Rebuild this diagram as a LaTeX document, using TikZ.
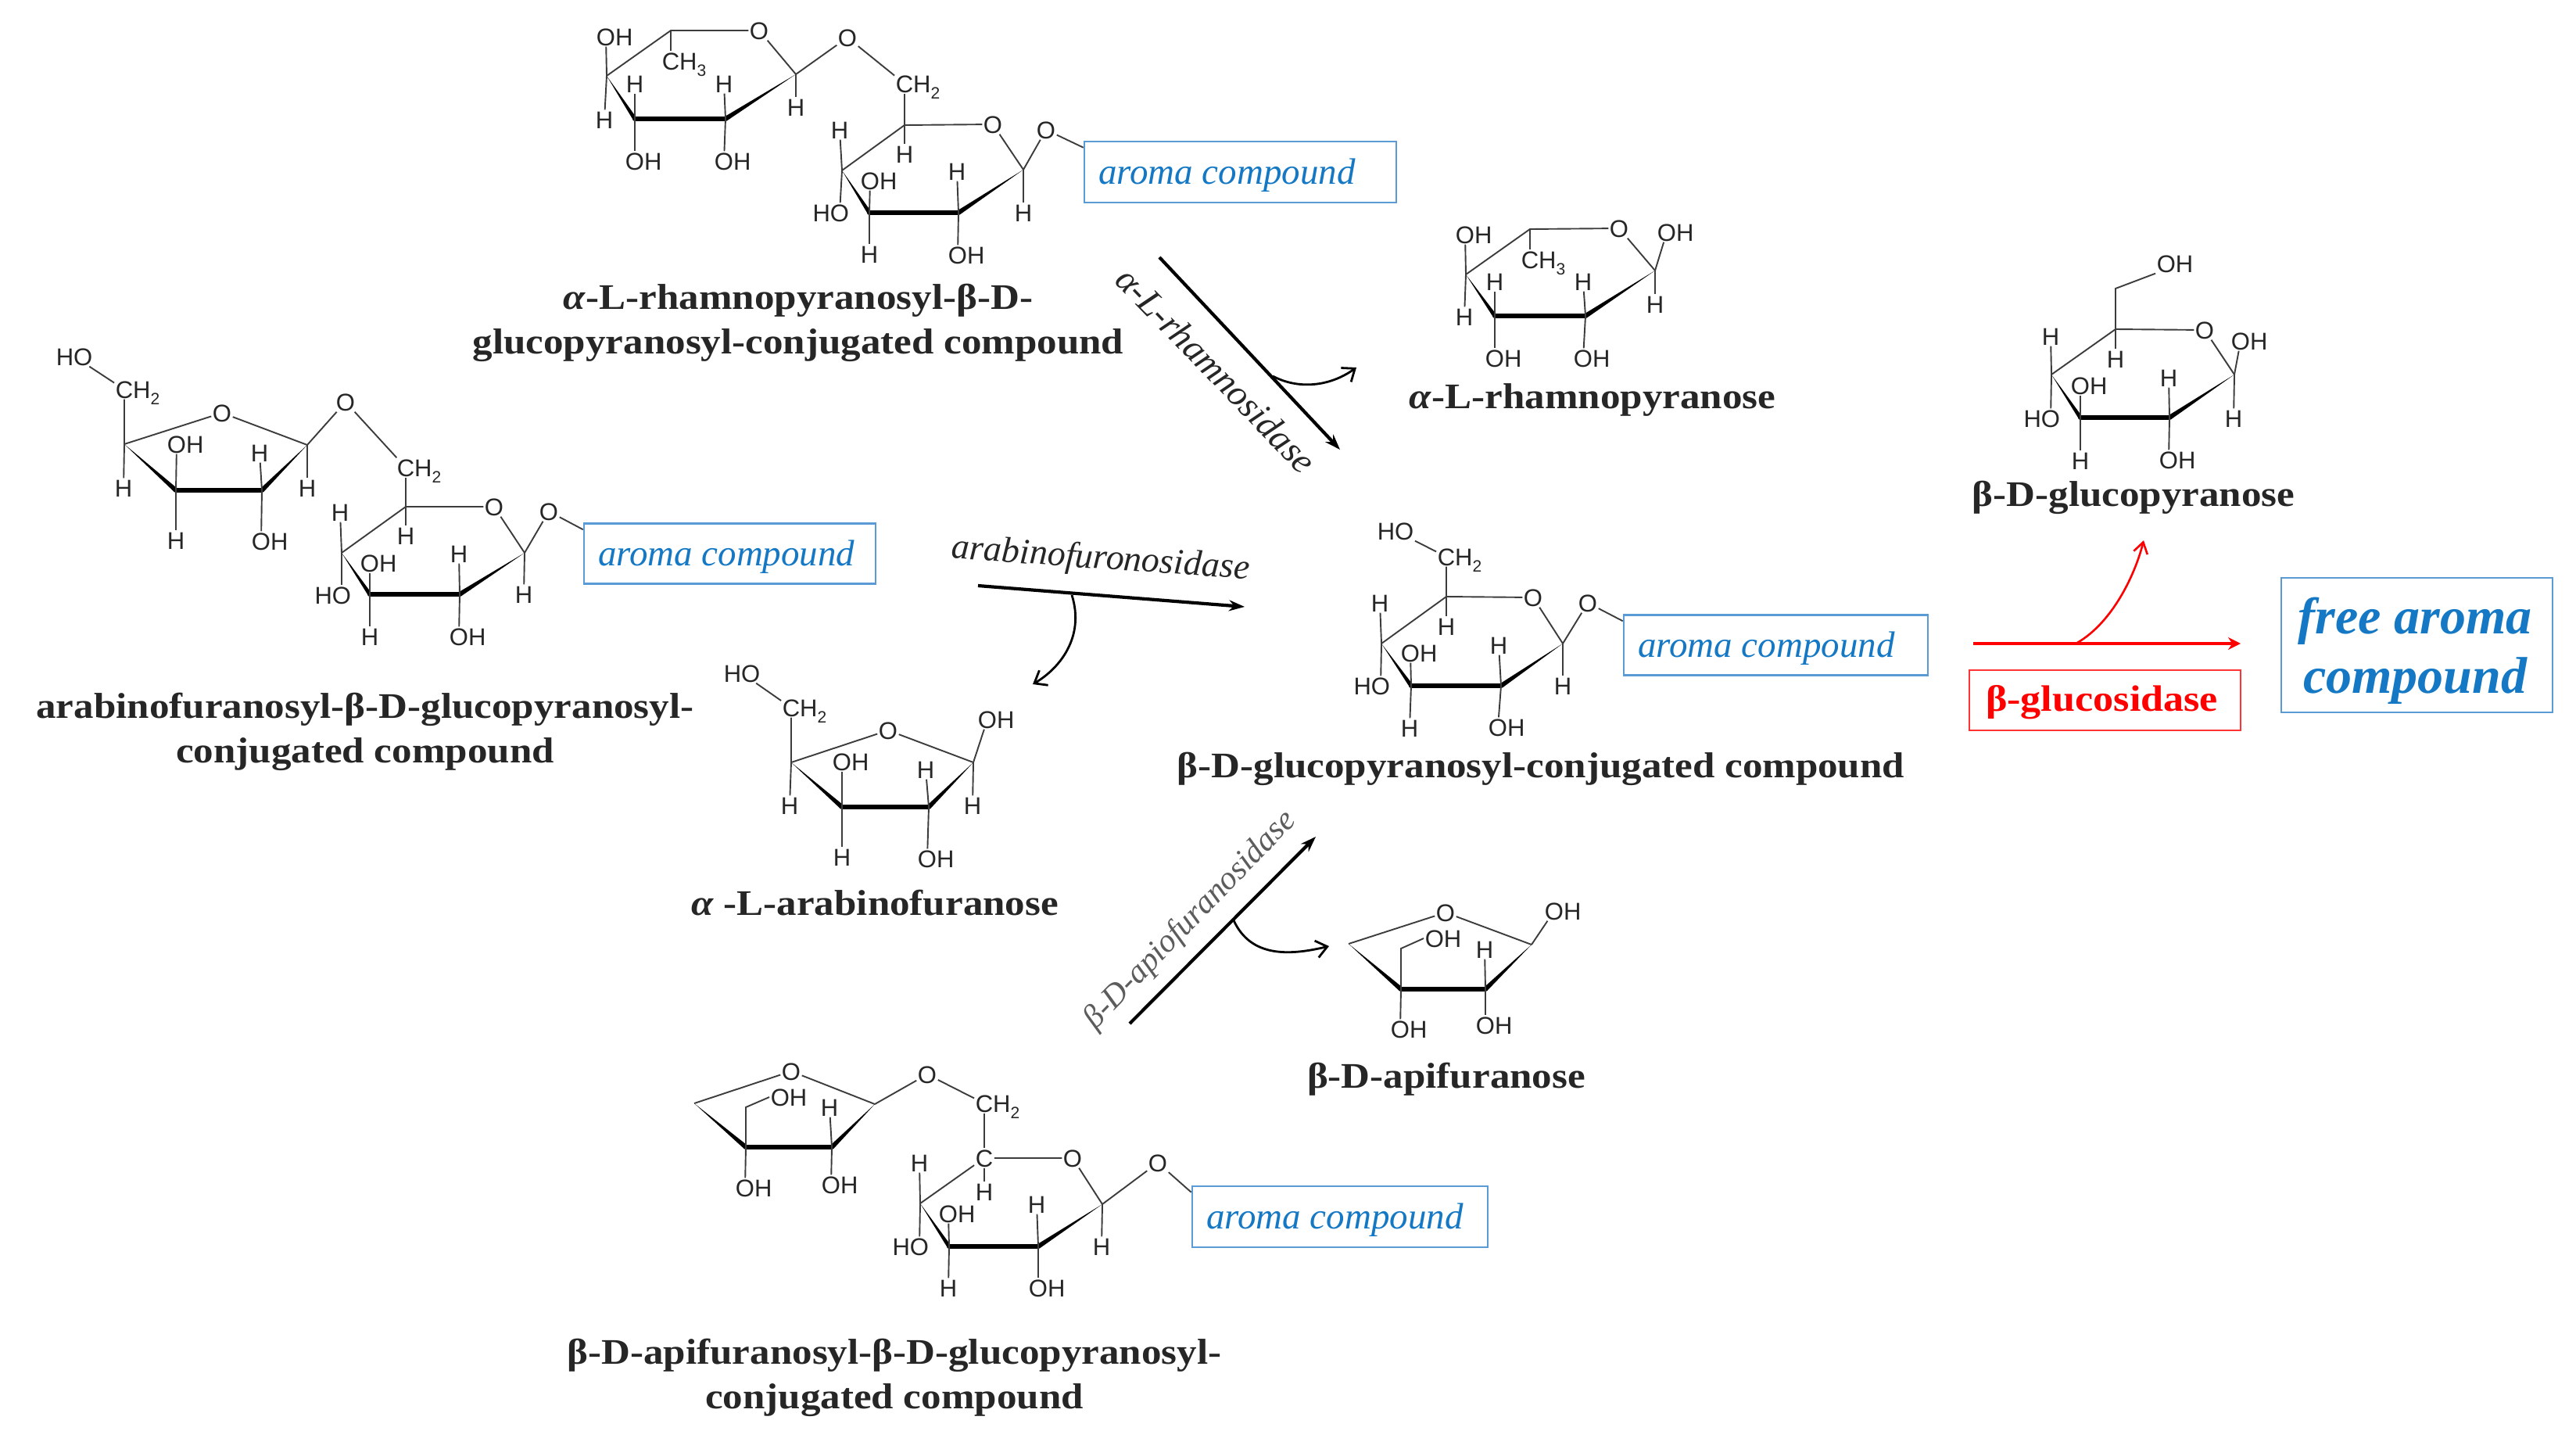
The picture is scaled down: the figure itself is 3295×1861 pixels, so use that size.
\documentclass[tikz,border=0pt]{standalone}
\usepackage{fontspec}
\setmainfont{Liberation Serif}
\newfontfamily\atomfont{Liberation Sans}
\newfontfamily\capfont[FakeStretch=1.11]{Liberation Serif}
\usetikzlibrary{arrows.meta,calc}
\definecolor{inkc}{HTML}{262626}
\definecolor{aromablue}{HTML}{1478C4}
\definecolor{boxblue}{HTML}{5B9BD5}
\definecolor{redc}{HTML}{FF0000}
\tikzset{
  atom/.style={inner sep=1.5pt,font=\atomfont\fontsize{31}{31}\selectfont,text=inkc,text height=22pt,text depth=0pt},
  bond/.style={line width=1.9pt,draw=inkc!90},
  boldbond/.style={line width=6pt,draw=black,line cap=round},
  caption/.style={font=\capfont\fontsize{46}{57}\selectfont\bfseries,text=inkc,align=center,inner sep=0pt},
  aromabox/.style={draw=boxblue,line width=2.6pt,fill=white,inner sep=0pt,font=\itshape\fontsize{47}{47}\selectfont,text=aromablue},
  enzyme/.style={font=\itshape\fontsize{47}{47}\selectfont,text=inkc,inner sep=0pt},
  mainarrow/.style={line width=4.2pt,draw=black,-{Stealth[length=20pt,width=14pt]}},
  sidearrow/.style={line width=2.8pt,draw=black,-{Straight Barb[length=14pt,width=22pt]}},
}
\newcounter{lab}
\newcommand{\Ln}[1]{\raisebox{-.28em}{\fontsize{21}{21}\selectfont #1}}
\newcommand{\HH}[3]{\stepcounter{lab}\node[atom] (h\thelab) at (#2,#3) {H};\draw[bond] (#1) -- (h\thelab);}
\newcommand{\OHb}[3]{\stepcounter{lab}\node[atom] (oh\thelab) at (#2-11,#3) {O\rlap{H}};\draw[bond] (#1) -- (oh\thelab);}
\newcommand{\HOb}[3]{\stepcounter{lab}\node[atom] (ho\thelab) at (#2+11,#3) {\llap{H}O};\draw[bond] (#1) -- (ho\thelab);}
% box text, left-set in a box of width #1
\newcommand{\aromat}[1]{\makebox[#1][l]{\hspace{18pt}\raisebox{-15pt}[0pt][0pt]{aroma compound}}}
% wedge: point at #1, wide end at #2
\newcommand{\wdg}[3]{\fill[black] (#1) -- ($(#2)!#3!90:(#1)$) -- ($(#2)!#3!-90:(#1)$) -- cycle;}
\newcommand{\six}[7]{%
  \coordinate (#1c5) at (#2);\node[atom] (#1o) at (#3) {O};\coordinate (#1c1) at (#4);
  \coordinate (#1c2) at (#5);\coordinate (#1c3) at (#6);\coordinate (#1c4) at (#7);
  \draw[bond] (#1c4) -- (#1c5) -- (#1o) -- (#1c1);
  \wdg{#1c1}{#1c2}{3pt}\wdg{#1c4}{#1c3}{2.6pt}
  \draw[boldbond] (#1c3) -- (#1c2);}
\newcommand{\five}[6]{%
  \coordinate (#1c4) at (#2);\node[atom] (#1o) at (#3) {O};\coordinate (#1c1) at (#4);
  \coordinate (#1c2) at (#5);\coordinate (#1c3) at (#6);
  \draw[bond] (#1c4) -- (#1o) -- (#1c1);
  \wdg{#1c1}{#1c2}{3pt}\wdg{#1c4}{#1c3}{3pt}
  \draw[boldbond] (#1c3) -- (#1c2);}
\begin{document}
\begin{tikzpicture}[x=1pt,y=-1pt]
\useasboundingbox (0,0) rectangle (3295,1861);

% ---------- top disaccharide
\six{a}{858,39}{971,39}{1018,95}{928,152}{812,152}{776,97}
\OHb{ac4}{786}{47}
\node[atom] (ach) at (858,78) {C\rlap{H\Ln{3}}}; \draw[bond] (ac5) -- (ach);
\HH{ac3}{812}{107}\HH{ac2}{926}{107}\HH{ac1}{1018}{137}\HH{ac4}{773}{153}
\OHb{ac3}{823}{206}\OHb{ac2}{937}{206}
\node[atom] (alink) at (1084,48) {O};
\node[atom] (ach2) at (1157,107) {C\rlap{H\Ln{2}}};
\draw[bond] (ac1) -- (alink) -- (ach2);
\six{b}{1157,160}{1270,159}{1309,217}{1226,272}{1112,272}{1077,218}
\draw[bond] (ach2) -- (bc5);
\HH{bc4}{1074}{166}\HH{bc5}{1157}{197}\OHb{bc3}{1124}{231}\HH{bc2}{1224}{219}
\HOb{bc4}{1063}{272}\HH{bc1}{1309}{272}\HH{bc3}{1112}{325}\OHb{bc2}{1236}{326}
\node[atom] (blink) at (1338,166) {O};
\node[aromabox,minimum width=399pt,minimum height=78pt] (boxa) at (1586.5,220) {\aromat{399pt}};
\draw[bond] (bc1) -- (blink) -- ($(boxa.north west)+(0,9)$);
\node[caption] (capa) at (1021,413) {\textit{α}-L-rhamnopyranosyl-β-D-\\glucopyranosyl-conjugated compound};

% ---------- left disaccharide
\five{c}{159,568}{284,528}{393,569}{335,627}{225,627}
\node[atom] (cch) at (159,498) {C\rlap{H\Ln{2}}};
\stepcounter{lab}\node[atom] (cho) at (95,456) {HO};
\draw[bond] (cc4) -- (cch) -- (cho);
\OHb{cc3}{237}{568}\HH{cc2}{332}{579}\HH{cc4}{158}{624}\HH{cc1}{393}{624}\HH{cc3}{225}{691}\OHb{cc2}{345}{692}
\node[atom] (clink) at (442,514) {O};
\node[atom] (cch2) at (519,598) {C\rlap{H\Ln{2}}};
\draw[bond] (cc1) -- (clink) -- (cch2);
\six{d}{519,648}{632,648}{671,707}{588,760}{473,760}{437,707}
\draw[bond] (cch2) -- (dc5);
\HH{dc4}{435}{655}\HH{dc5}{519}{685}\OHb{dc3}{484}{720}\HH{dc2}{587}{708}
\HOb{dc4}{426}{761}\HH{dc1}{670}{760}\HH{dc3}{473}{814}\OHb{dc2}{598}{814}
\node[atom] (dlink) at (702,654) {O};
\node[aromabox,minimum width=373pt,minimum height=77pt] (boxd) at (933.5,708) {\aromat{373pt}};
\draw[bond] (dc1) -- (dlink) -- ($(boxd.north west)+(0,9)$);
\node[caption] (capd) at (467,936) {arabinofuranosyl-β-D-glucopyranosyl-\\conjugated compound};

% ---------- rhamnopyranose
\six{e}{1957,293}{2071,292}{2117,346}{2028,404}{1912,404}{1875,351}
\OHb{ec4}{1885}{300}
\node[atom] (ech) at (1957,332) {C\rlap{H\Ln{3}}}; \draw[bond] (ec5) -- (ech);
\HH{ec3}{1912}{360}\HH{ec2}{2025}{360}\OHb{ec1}{2143}{297}\HH{ec1}{2117}{389}
\HH{ec4}{1873}{405}\OHb{ec3}{1923}{458}\OHb{ec2}{2036}{458}
\node[caption] (cape) at (2037,511) {\textit{α}-L-rhamnopyranose};

% ---------- glucopyranose
\six{f}{2706,421}{2820,422}{2858,479}{2775,534}{2661,534}{2624,479}
\coordinate (fch) at (2706,369);
\stepcounter{lab}\node[atom] (foh) at (2782,337) {OH};
\draw[bond] (fc5) -- (fch) -- (foh.south west);
\HH{fc4}{2623}{430}\HH{fc5}{2706}{459}\OHb{fc3}{2672}{493}\HH{fc2}{2774}{483}
\OHb{fc1}{2877}{436}\HH{fc1}{2857}{535}\HOb{fc4}{2612}{535}\HH{fc3}{2661}{589}\OHb{fc2}{2785}{588}
\node[caption] (capf) at (2729,636) {β-D-glucopyranose};

% ---------- central glucoside
\six{g}{1850,763}{1961,764}{1999,823}{1920,877}{1805,877}{1767,823}
\node[atom] (gch) at (1850,712) {C\rlap{H\Ln{2}}};
\stepcounter{lab}\node[atom] (gho) at (1785,679) {HO};
\draw[bond] (gc5) -- (gch) -- (gho);
\HH{gc4}{1765}{771}\HH{gc5}{1850}{801}\OHb{gc3}{1815}{835}\HH{gc2}{1917}{825}
\HOb{gc4}{1755}{877}\HH{gc1}{1999}{877}\HH{gc3}{1803}{931}\OHb{gc2}{1927}{930}
\node[atom] (glink) at (2031,771) {O};
\node[aromabox,minimum width=389pt,minimum height=77pt] (boxg) at (2271.5,825) {\aromat{389pt}};
\draw[bond] (gc1) -- (glink) -- ($(boxg.north west)+(0,9)$);
\node[caption] (capg) at (1971,983) {β-D-glucopyranosyl-conjugated compound};

% ---------- arabinofuranose
\five{h}{1012,975}{1136,934}{1245,975}{1188,1032}{1077,1032}
\node[atom] (hch) at (1012,905) {C\rlap{H\Ln{2}}};
\stepcounter{lab}\node[atom] (hho) at (949,861) {HO};
\draw[bond] (hc4) -- (hch) -- (hho);
\OHb{hc1}{1274}{920}\OHb{hc3}{1088}{974}\HH{hc2}{1184}{984}\HH{hc4}{1010}{1030}\HH{hc1}{1244}{1030}
\HH{hc3}{1077}{1096}\OHb{hc2}{1197}{1098}
\node[caption] (caph) at (1119,1155) {\textit{α} -L-arabinofuranose};

% ---------- apifuranose
\five{i}{1725,1207}{1849,1167}{1959,1208}{1900,1265}{1792,1265}
\coordinate (ibr) at (1792,1213);
\stepcounter{lab}\node[atom] (ioh) at (1846,1200) {OH};
\draw[bond] (ic3) -- (ibr) -- (ioh.west);
\OHb{ic1}{1999}{1165}\HH{ic2}{1899}{1214}\OHb{ic3}{1802}{1316}\OHb{ic2}{1911}{1311}
\node[caption] (capi) at (1850,1380) {β-D-apifuranose};

% ---------- bottom disaccharide
\five{j}{888,1411}{1012,1370}{1119,1412}{1064,1467}{954,1467}
\coordinate (jbr) at (954,1416);
\stepcounter{lab}\node[atom] (joh) at (1009,1403) {OH};
\draw[bond] (jc3) -- (jbr) -- (joh.west);
\HH{jc2}{1061}{1416}\OHb{jc3}{964}{1519}\OHb{jc2}{1074}{1515}
\node[atom] (jlink) at (1186,1374) {O};
\node[atom] (jch2) at (1259,1411) {C\rlap{H\Ln{2}}};
\draw[bond] (jc1) -- (jlink) -- (jch2);
\node[atom] (kcc) at (1259,1481) {C};
\node[atom] (ko) at (1372,1481) {O};
\coordinate (kc1) at (1410,1540);\coordinate (kc2) at (1328,1594);\coordinate (kc3) at (1214,1594);\coordinate (kc4) at (1177,1539);
\draw[bond] (jch2) -- (kcc); \draw[bond] (kc4) -- (kcc) -- (ko) -- (kc1);
\wdg{kc1}{kc2}{3pt}\wdg{kc4}{kc3}{2.6pt}\draw[boldbond] (kc3) -- (kc2);
\HH{kc4}{1176}{1487}\HH{kcc}{1259}{1524}\OHb{kc3}{1224}{1552}\HH{kc2}{1326}{1540}
\HOb{kc4}{1165}{1594}\HH{kc1}{1409}{1594}\HH{kc3}{1213}{1647}\OHb{kc2}{1339}{1647}
\node[atom] (klink) at (1481,1487) {O};
\node[aromabox,minimum width=378pt,minimum height=78pt] (boxk) at (1714,1556) {\aromat{378pt}};
\draw[bond] (kc1) -- (klink) -- ($(boxk.north west)+(0,9)$);
\node[caption] (capk) at (1144,1762) {β-D-apifuranosyl-β-D-glucopyranosyl-\\conjugated compound};

% ---------- enzymatic arrows
\coordinate (rs) at (1483,329);\coordinate (re) at (1714,575);\coordinate (rb) at (1628,481);\coordinate (rt) at (1735,470);
\draw[mainarrow] (rs) -- (re);
\draw[sidearrow] (rb) .. controls (1660,498) and (1700,495) .. (rt);
\node[enzyme,rotate=-46] (rlab) at (1556,473) {α-L-rhamnosidase};

\coordinate (as) at (1251,749);\coordinate (ae) at (1592,776);\coordinate (ab) at (1371,761);\coordinate (at) at (1321,875);
\draw[mainarrow] (as) -- (ae);
\draw[sidearrow] (ab) .. controls (1388,815) and (1355,855) .. (at);
\node[enzyme,rotate=-4,font=\itshape\fontsize{46}{46}\selectfont] (alab) at (1408,716) {arabinofuronosidase};

\coordinate (ps) at (1445,1309);\coordinate (pe) at (1683,1070);\coordinate (pb) at (1578,1177);\coordinate (pt) at (1700,1210);
\draw[mainarrow] (ps) -- (pe);
\draw[sidearrow] (pb) .. controls (1600,1225) and (1650,1222) .. (pt);
\node[enzyme,rotate=46,font=\itshape\fontsize{42}{42}\selectfont,text=inkc!75] (plab) at (1523,1177) {β-D-apiofuranosidase};

% ---------- red part
\coordinate (ss) at (2524,823);\coordinate (se) at (2866,823);\coordinate (sb) at (2657,822);\coordinate (st) at (2742,691);
\draw[line width=4.6pt,draw=redc,-{Stealth[length=16pt,width=16pt]}] (ss) -- (se);
\draw[line width=2.6pt,draw=redc,-{Straight Barb[length=14pt,width=18pt]}] (sb) .. controls (2702,796) and (2731,735) .. (st);
\node[draw=redc!80,line width=2.8pt,minimum width=347pt,minimum height=77pt,inner sep=0pt,text=redc,font=\capfont\fontsize{47}{47}\selectfont\bfseries] (glc) at (2692.5,895.5) {\makebox[347pt][l]{\hspace{21pt}\raisebox{-14pt}[0pt][0pt]{β-glucosidase}}};
\node[draw=boxblue,line width=2.6pt,minimum width=347pt,minimum height=172pt,inner sep=0pt] (free) at (3091.5,825) {};
\node[inner sep=0pt,align=center,text=aromablue,font=\bfseries\itshape\fontsize{66}{76}\selectfont] (freet) at (3089,832) {free aroma\\compound};
\end{tikzpicture}
\end{document}
